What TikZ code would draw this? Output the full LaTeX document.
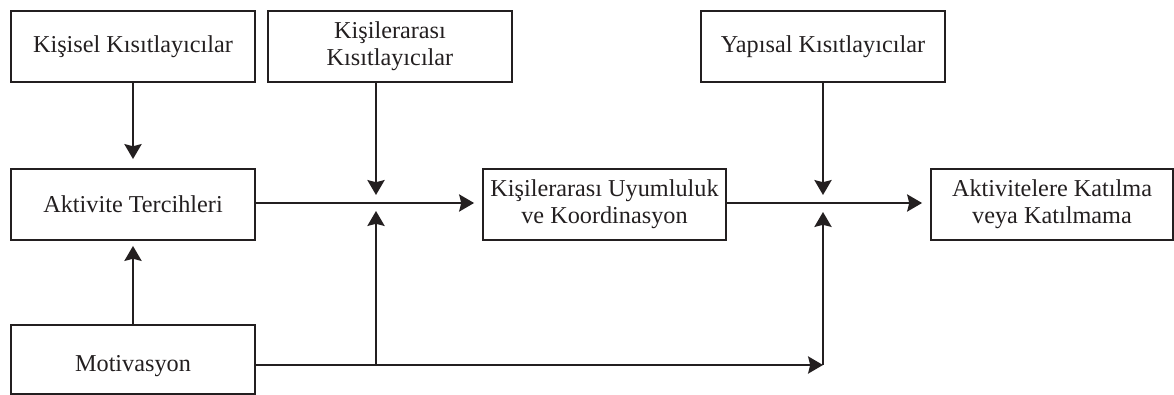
\documentclass[tikz,border=0pt]{standalone}
\usepackage{fontspec}
\setmainfont{Liberation Serif}
\usetikzlibrary{arrows.meta}
\definecolor{ink}{RGB}{35,31,32}
\begin{document}
\begin{tikzpicture}[x=0.02cm,y=-0.02cm,
  box/.style={draw=ink,line width=1.1pt,inner sep=0pt,align=center,
    minimum width=4.88cm,minimum height=1.42cm,text=ink,
    font=\fontsize{13.8}{15.3}\selectfont},
  link/.style={draw=ink,line width=1.1pt,
    -{Stealth[length=8.5pt,width=9.8pt,inset=1.2pt]}},
  plain/.style={draw=ink,line width=1.1pt}]
\useasboundingbox (0,0) rectangle (1174,395);

% boxes
\node[box] (kis)   at (133,46.5)   {Kişisel Kısıtlayıcılar};
\node[box] (kiler) at (390,46.5)   {Kişilerarası\\Kısıtlayıcılar};
\node[box] (yap)   at (823,46.5)   {Yapısal Kısıtlayıcılar};
\node[box] (akt)   at (133,204.5)  {Aktivite Tercihleri};
\node[box,minimum width=4.86cm] (uyum) at (604.5,204.5) {Kişilerarası Uyumluluk\\ve Koordinasyon};
\node[box,minimum width=4.84cm] (kat)  at (1052,204.5)  {Aktivitelere Katılma\\veya Katılmama};
\node[box,minimum height=1.38cm] (mot) at (133,359.5)
  {\raisebox{-0.14cm}[\height][\depth]{Motivasyon}};

% junction points
\coordinate (j1) at (376,203);
\coordinate (j2) at (823,203);
\coordinate (m1) at (376,365);
\coordinate (m2) at (823,365);

% connectors
\draw[link,shorten >=0.18cm] (kis.south) -- (akt.north);
\draw[link,shorten >=0.1cm] (mot.north) -- (akt.south);
\draw[link,shorten >=0.16cm] (akt.east |- j1) -- (uyum.west |- j1);
\draw[link,shorten >=0.16cm] (uyum.east |- j2) -- (kat.west |- j2);
\draw[link,shorten >=0.16cm] (kiler.south -| j1) -- (j1);
\draw[link,shorten >=0.16cm] (yap.south) -- (j2);
\draw[plain] (mot.east |- m1) -- (m1);
\draw[link] (m1) -- (m2);
\draw[link,shorten >=0.16cm] (m1) -- (j1);
\draw[link,shorten >=0.18cm] (m2) -- (j2);
\end{tikzpicture}
\end{document}
